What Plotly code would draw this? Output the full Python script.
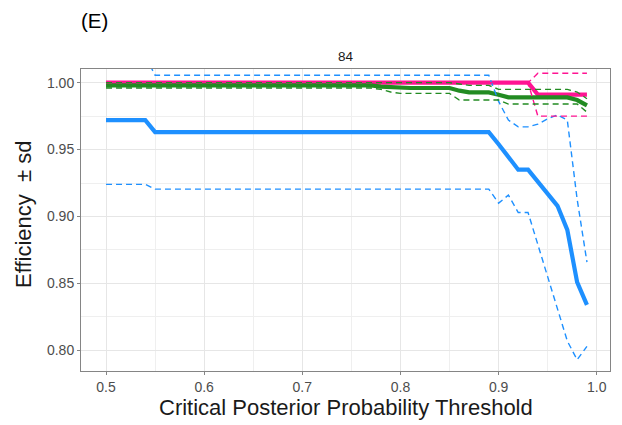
import plotly.graph_objects as go

# Critical posterior probability thresholds (x axis)
thresholds = [
    0.50, 0.51, 0.52, 0.53, 0.54, 0.55, 0.56, 0.57, 0.58, 0.59,
    0.60, 0.61, 0.62, 0.63, 0.64, 0.65, 0.66, 0.67, 0.68, 0.69,
    0.70, 0.71, 0.72, 0.73, 0.74, 0.75, 0.76, 0.77, 0.78, 0.79,
    0.80, 0.81, 0.82, 0.83, 0.84, 0.85, 0.86, 0.87, 0.88, 0.89,
    0.90, 0.91, 0.92, 0.93, 0.94, 0.95, 0.96, 0.97, 0.98, 0.99,
]

# Blue design: mean efficiency and mean -/+ sd
blue_mean = [
    0.972, 0.972, 0.972, 0.972, 0.972, 0.963, 0.963, 0.963, 0.963, 0.963,
    0.963, 0.963, 0.963, 0.963, 0.963, 0.963, 0.963, 0.963, 0.963, 0.963,
    0.963, 0.963, 0.963, 0.963, 0.963, 0.963, 0.963, 0.963, 0.963, 0.963,
    0.963, 0.963, 0.963, 0.963, 0.963, 0.963, 0.963, 0.963, 0.963, 0.963,
    0.954, 0.945, 0.935, 0.935, 0.926, 0.917, 0.908, 0.890, 0.851, 0.834,
]
blue_lower = [
    0.924, 0.924, 0.924, 0.924, 0.924, 0.9205, 0.9205, 0.9205, 0.9205, 0.9205,
    0.9205, 0.9205, 0.9205, 0.9205, 0.9205, 0.9205, 0.9205, 0.9205, 0.9205, 0.9205,
    0.9205, 0.9205, 0.9205, 0.9205, 0.9205, 0.9205, 0.9205, 0.9205, 0.9205, 0.9205,
    0.9205, 0.9205, 0.9205, 0.9205, 0.9205, 0.9205, 0.9205, 0.9205, 0.9205, 0.9205,
    0.910, 0.916, 0.903, 0.903, 0.879, 0.855, 0.831, 0.807, 0.793, 0.803,
]
blue_upper = [
    1.020, 1.020, 1.020, 1.020, 1.020, 1.0055, 1.0055, 1.0055, 1.0055, 1.0055,
    1.0055, 1.0055, 1.0055, 1.0055, 1.0055, 1.0055, 1.0055, 1.0055, 1.0055, 1.0055,
    1.0055, 1.0055, 1.0055, 1.0055, 1.0055, 1.0055, 1.0055, 1.0055, 1.0055, 1.0055,
    1.0055, 1.0055, 1.0055, 1.0055, 1.0055, 1.0055, 1.0055, 1.0055, 1.0055, 1.0055,
    0.986, 0.972, 0.967, 0.967, 0.969, 0.973, 0.976, 0.972, 0.913, 0.866,
]

# Pink design
pink_mean = [
    1.000, 1.000, 1.000, 1.000, 1.000, 1.000, 1.000, 1.000, 1.000, 1.000,
    1.000, 1.000, 1.000, 1.000, 1.000, 1.000, 1.000, 1.000, 1.000, 1.000,
    1.000, 1.000, 1.000, 1.000, 1.000, 1.000, 1.000, 1.000, 1.000, 1.000,
    1.000, 1.000, 1.000, 1.000, 1.000, 1.000, 1.000, 1.000, 1.000, 1.000,
    1.000, 1.000, 1.000, 1.000, 0.991, 0.991, 0.991, 0.991, 0.991, 0.991,
]
pink_lower = [
    1.000, 1.000, 1.000, 1.000, 1.000, 1.000, 1.000, 1.000, 1.000, 1.000,
    1.000, 1.000, 1.000, 1.000, 1.000, 1.000, 1.000, 1.000, 1.000, 1.000,
    1.000, 1.000, 1.000, 1.000, 1.000, 1.000, 1.000, 1.000, 1.000, 1.000,
    1.000, 1.000, 1.000, 1.000, 1.000, 1.000, 1.000, 1.000, 1.000, 1.000,
    1.000, 1.000, 1.000, 1.000, 0.975, 0.975, 0.975, 0.975, 0.975, 0.975,
]
pink_upper = [
    1.000, 1.000, 1.000, 1.000, 1.000, 1.000, 1.000, 1.000, 1.000, 1.000,
    1.000, 1.000, 1.000, 1.000, 1.000, 1.000, 1.000, 1.000, 1.000, 1.000,
    1.000, 1.000, 1.000, 1.000, 1.000, 1.000, 1.000, 1.000, 1.000, 1.000,
    1.000, 1.000, 1.000, 1.000, 1.000, 1.000, 1.000, 1.000, 1.000, 1.000,
    1.000, 1.000, 1.000, 1.000, 1.007, 1.007, 1.007, 1.007, 1.007, 1.007,
]

# Green design
green_mean = [
    0.998, 0.998, 0.998, 0.998, 0.998, 0.998, 0.998, 0.998, 0.998, 0.998,
    0.998, 0.998, 0.998, 0.998, 0.998, 0.998, 0.998, 0.998, 0.998, 0.998,
    0.998, 0.998, 0.998, 0.998, 0.998, 0.998, 0.998, 0.998, 0.997, 0.9965,
    0.996, 0.996, 0.996, 0.996, 0.996, 0.996, 0.994, 0.9927, 0.9927, 0.9927,
    0.991, 0.989, 0.989, 0.989, 0.989, 0.989, 0.989, 0.989, 0.987, 0.983,
]
green_lower = [
    0.996, 0.996, 0.996, 0.996, 0.996, 0.996, 0.996, 0.996, 0.996, 0.996,
    0.996, 0.996, 0.996, 0.996, 0.996, 0.996, 0.996, 0.996, 0.996, 0.996,
    0.996, 0.996, 0.996, 0.996, 0.996, 0.996, 0.996, 0.996, 0.995, 0.993,
    0.992, 0.992, 0.992, 0.992, 0.992, 0.992, 0.987, 0.987, 0.987, 0.987,
    0.987, 0.984, 0.984, 0.984, 0.984, 0.984, 0.984, 0.984, 0.984, 0.978,
]
green_upper = [
    1.000, 1.000, 1.000, 1.000, 1.000, 1.000, 1.000, 1.000, 1.000, 1.000,
    1.000, 1.000, 1.000, 1.000, 1.000, 1.000, 1.000, 1.000, 1.000, 1.000,
    1.000, 1.000, 1.000, 1.000, 1.000, 1.000, 1.000, 1.000, 1.000, 1.000,
    1.000, 1.000, 1.000, 1.000, 1.000, 1.000, 0.999, 0.998, 0.998, 0.998,
    0.995, 0.995, 0.995, 0.995, 0.995, 0.995, 0.995, 0.995, 0.993, 0.988,
]

BLUE = "#1E90FF"
PINK = "#FF1493"
GREEN = "#228B22"
FONT = "Liberation Sans, Arial, sans-serif"

series = [
    (BLUE, blue_mean, blue_lower, blue_upper),
    (PINK, pink_mean, pink_lower, pink_upper),
    (GREEN, green_mean, green_lower, green_upper),
]

fig = go.Figure()

# thick mean lines
for color, mean, _, _ in series:
    fig.add_trace(go.Scatter(
        x=thresholds, y=mean, mode="lines",
        line=dict(color=color, width=4.2),
        showlegend=False, hoverinfo="skip",
    ))

# thin dashed mean -/+ sd lines
for color, _, lower, upper in series:
    for band in (lower, upper):
        fig.add_trace(go.Scatter(
            x=thresholds, y=band, mode="lines",
            line=dict(color=color, width=1.4, dash="6px,4px"),
            showlegend=False, hoverinfo="skip",
        ))

axis_common = dict(
    showgrid=True, gridcolor="#e6e6e6", gridwidth=1.1,
    zeroline=False,
    showline=True, linecolor="#858585", linewidth=1, mirror=True,
    ticks="outside", ticklen=3, tickcolor="#858585", tickwidth=1,
    tickfont=dict(family=FONT, size=14, color="#4d4d4d"),
)

fig.update_layout(
    width=622, height=425,
    margin=dict(l=81, r=12, t=69, b=54),
    paper_bgcolor="white", plot_bgcolor="white",
    font=dict(family=FONT),
    xaxis=dict(
        range=[0.4745, 1.0135], tickmode="linear", tick0=0.5, dtick=0.1,
        tickformat=".1f",
        minor=dict(dtick=0.05, tick0=0.45, showgrid=True,
                   gridcolor="#efefef", gridwidth=0.8),
        **axis_common,
    ),
    yaxis=dict(
        range=[0.7846, 1.0102], tickmode="linear", tick0=0.8, dtick=0.05,
        tickformat=".2f",
        minor=dict(dtick=0.025, tick0=0.775, showgrid=True,
                   gridcolor="#efefef", gridwidth=0.8),
        **axis_common,
    ),
    annotations=[
        dict(text="(E)", xref="paper", yref="paper", x=-0.003, y=1.162,
             xanchor="left", yanchor="middle", showarrow=False,
             font=dict(family=FONT, size=20.5, color="black")),
        dict(text="84", xref="paper", yref="paper", x=0.5, y=1.040,
             xanchor="center", yanchor="middle", showarrow=False,
             font=dict(family=FONT, size=13.5, color="#1a1a1a")),
        dict(text="Critical Posterior Probability Threshold",
             xref="paper", yref="paper", x=0.5, y=-0.1225,
             xanchor="center", yanchor="middle", showarrow=False,
             font=dict(family=FONT, size=22, color="#1a1a1a")),
        dict(text="Efficiency \u00a0\u00b1 sd",
             xref="paper", yref="paper", x=-0.1077, y=0.5166,
             xanchor="center", yanchor="middle", showarrow=False,
             textangle=-90,
             font=dict(family=FONT, size=22, color="#1a1a1a")),
    ],
)

fig.write_html("out.html")
